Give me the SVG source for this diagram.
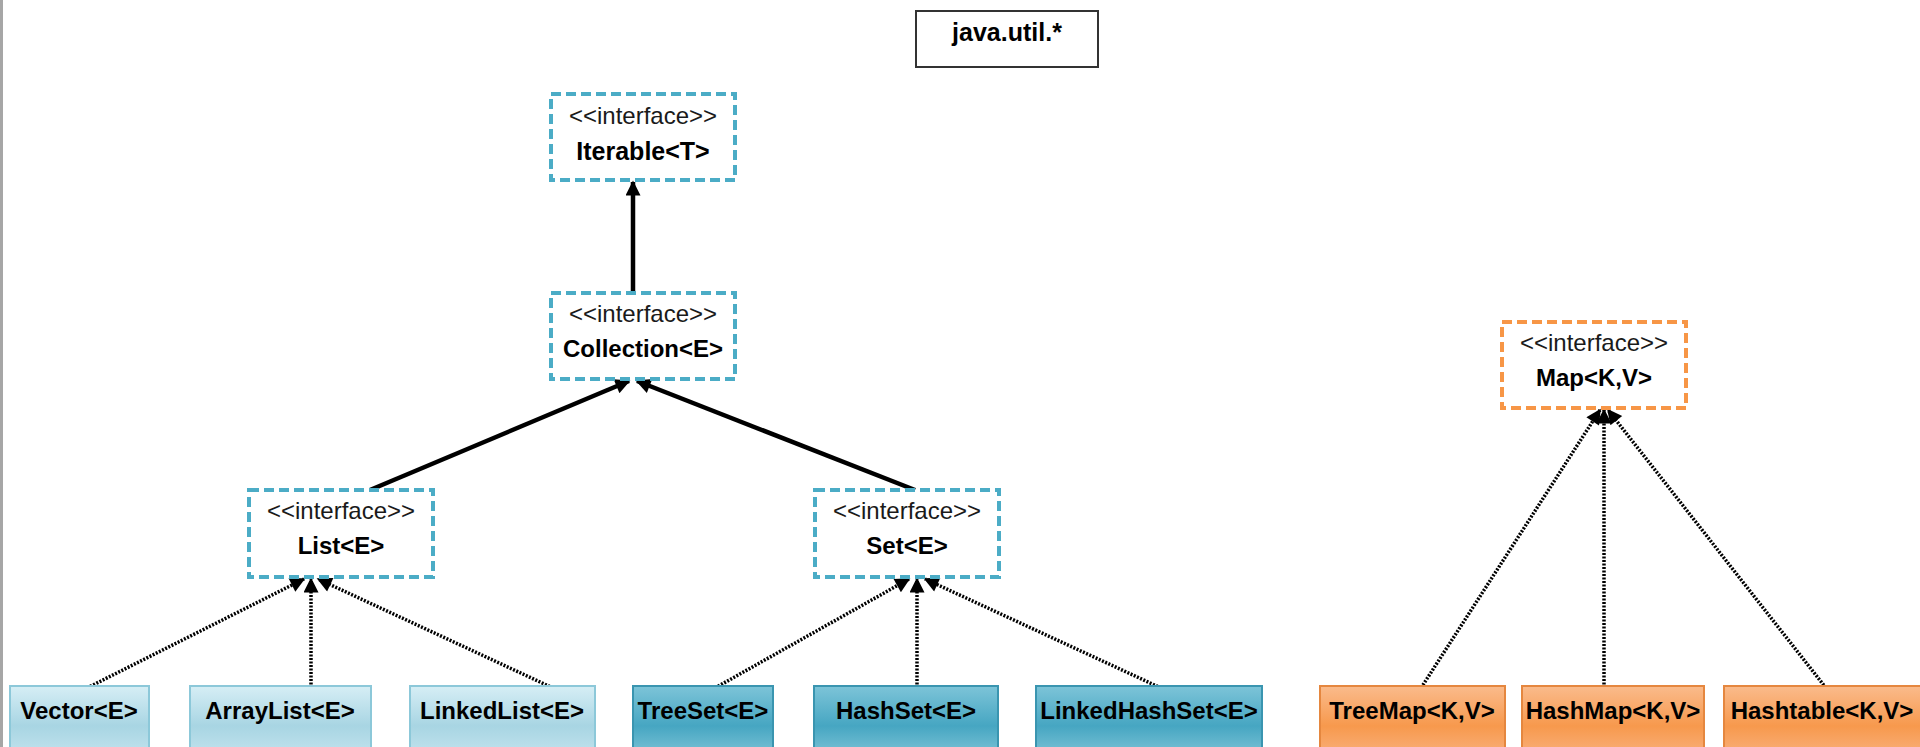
<svg xmlns="http://www.w3.org/2000/svg" width="1920" height="747" viewBox="0 0 1920 747">
<style>
.t{font-family:"Liberation Sans",Arial,sans-serif;text-anchor:middle;fill:#1a1a1a}
.st{font-size:24px}
.nm{font-size:24px;font-weight:bold;fill:#000}
.big{font-size:25px}
.ib{fill:#fff;stroke:#4bacc6;stroke-width:4;stroke-dasharray:10 5}
.io{fill:#fff;stroke:#f79646;stroke-width:4;stroke-dasharray:10 5}
.lb{fill:url(#gLight);stroke:#8cc8d9;stroke-width:2}
.db{fill:url(#gDark);stroke:#3a95b0;stroke-width:2}
.ob{fill:url(#gOr);stroke:#e5873f;stroke-width:2}
.solid{stroke:#000;stroke-width:4.5;fill:none;marker-end:url(#ah)}
.dot{stroke:#000;stroke-width:3.5;stroke-dasharray:2 1.5;fill:none;marker-end:url(#ah)}
</style>
<defs>
<linearGradient id="gLight" x1="0" y1="0" x2="0" y2="1">
<stop offset="0" stop-color="#d6eef5"/><stop offset="0.5" stop-color="#a8d5e3"/><stop offset="1" stop-color="#cbe8f1"/>
</linearGradient>
<linearGradient id="gDark" x1="0" y1="0" x2="0" y2="1">
<stop offset="0" stop-color="#7dc4d8"/><stop offset="0.5" stop-color="#46a6c2"/><stop offset="1" stop-color="#8ecddd"/>
</linearGradient>
<linearGradient id="gOr" x1="0" y1="0" x2="0" y2="1">
<stop offset="0" stop-color="#fabb8c"/><stop offset="0.5" stop-color="#f7994d"/><stop offset="1" stop-color="#fab88a"/>
</linearGradient>
<marker id="ah" viewBox="0 0 10 10" refX="9" refY="5" markerUnits="userSpaceOnUse" markerWidth="18" markerHeight="15" orient="auto">
<path d="M0,0 L10,5 L0,10 z" fill="#000"/>
</marker>
</defs>
<rect x="0" y="0" width="1920" height="747" fill="#fff"/>
<rect x="0" y="0" width="3" height="747" fill="#a6a6a6"/>

<g id="pkg">
<rect x="916" y="11" width="182" height="56" fill="#fff" stroke="#333" stroke-width="2"/>
<text class="t nm" x="1007" y="41" style="font-size:25px">java.util.*</text>
</g>

<g id="connectors">
<line class="solid" x1="633" y1="293" x2="633" y2="182"/>
<line class="solid" x1="370" y1="490" x2="629" y2="381"/>
<line class="solid" x1="915" y1="490" x2="637" y2="381"/>
<line class="dot" x1="87" y1="688" x2="304" y2="579"/>
<line class="dot" x1="311" y1="688" x2="311" y2="579"/>
<line class="dot" x1="553" y1="688" x2="318" y2="579"/>
<line class="dot" x1="715" y1="688" x2="909" y2="579"/>
<line class="dot" x1="917" y1="688" x2="917" y2="579"/>
<line class="dot" x1="1161" y1="688" x2="925" y2="579"/>
<line class="dot" x1="1421" y1="688" x2="1600" y2="410"/>
<line class="dot" x1="1604" y1="688" x2="1604" y2="410"/>
<line class="dot" x1="1826" y1="688" x2="1608" y2="410"/>
</g>

<g id="iterable">
<rect class="ib" x="551" y="94" width="184" height="86"/>
<text class="t st" x="643" y="124">&lt;&lt;interface&gt;&gt;</text>
<text class="t nm big" x="643" y="160">Iterable&lt;T&gt;</text>
</g>
<g id="collection">
<rect class="ib" x="551" y="293" width="184" height="86"/>
<text class="t st" x="643" y="322">&lt;&lt;interface&gt;&gt;</text>
<text class="t nm" x="643" y="357">Collection&lt;E&gt;</text>
</g>
<g id="list">
<rect class="ib" x="249" y="490" width="184" height="87"/>
<text class="t st" x="341" y="519">&lt;&lt;interface&gt;&gt;</text>
<text class="t nm" x="341" y="554">List&lt;E&gt;</text>
</g>
<g id="set">
<rect class="ib" x="815" y="490" width="184" height="87"/>
<text class="t st" x="907" y="519">&lt;&lt;interface&gt;&gt;</text>
<text class="t nm" x="907" y="554">Set&lt;E&gt;</text>
</g>
<g id="map">
<rect class="io" x="1502" y="322" width="184" height="86"/>
<text class="t st" x="1594" y="351">&lt;&lt;interface&gt;&gt;</text>
<text class="t nm" x="1594" y="386">Map&lt;K,V&gt;</text>
</g>

<g id="vector"><rect class="lb" x="10" y="686" width="139" height="80"/><text class="t nm" x="79" y="719">Vector&lt;E&gt;</text></g>
<g id="arraylist"><rect class="lb" x="190" y="686" width="181" height="80"/><text class="t nm" x="280" y="719">ArrayList&lt;E&gt;</text></g>
<g id="linkedlist"><rect class="lb" x="410" y="686" width="185" height="80"/><text class="t nm" x="502" y="719">LinkedList&lt;E&gt;</text></g>
<g id="treeset"><rect class="db" x="633" y="686" width="140" height="80"/><text class="t nm" x="703" y="719">TreeSet&lt;E&gt;</text></g>
<g id="hashset"><rect class="db" x="814" y="686" width="184" height="80"/><text class="t nm" x="906" y="719">HashSet&lt;E&gt;</text></g>
<g id="linkedhashset"><rect class="db" x="1036" y="686" width="226" height="80"/><text class="t nm" x="1149" y="719">LinkedHashSet&lt;E&gt;</text></g>
<g id="treemap"><rect class="ob" x="1320" y="686" width="185" height="80"/><text class="t nm" x="1412" y="719">TreeMap&lt;K,V&gt;</text></g>
<g id="hashmap"><rect class="ob" x="1522" y="686" width="182" height="80"/><text class="t nm" x="1613" y="719">HashMap&lt;K,V&gt;</text></g>
<g id="hashtable"><rect class="ob" x="1724" y="686" width="200" height="80"/><text class="t nm" x="1822" y="719">Hashtable&lt;K,V&gt;</text></g>
</svg>
